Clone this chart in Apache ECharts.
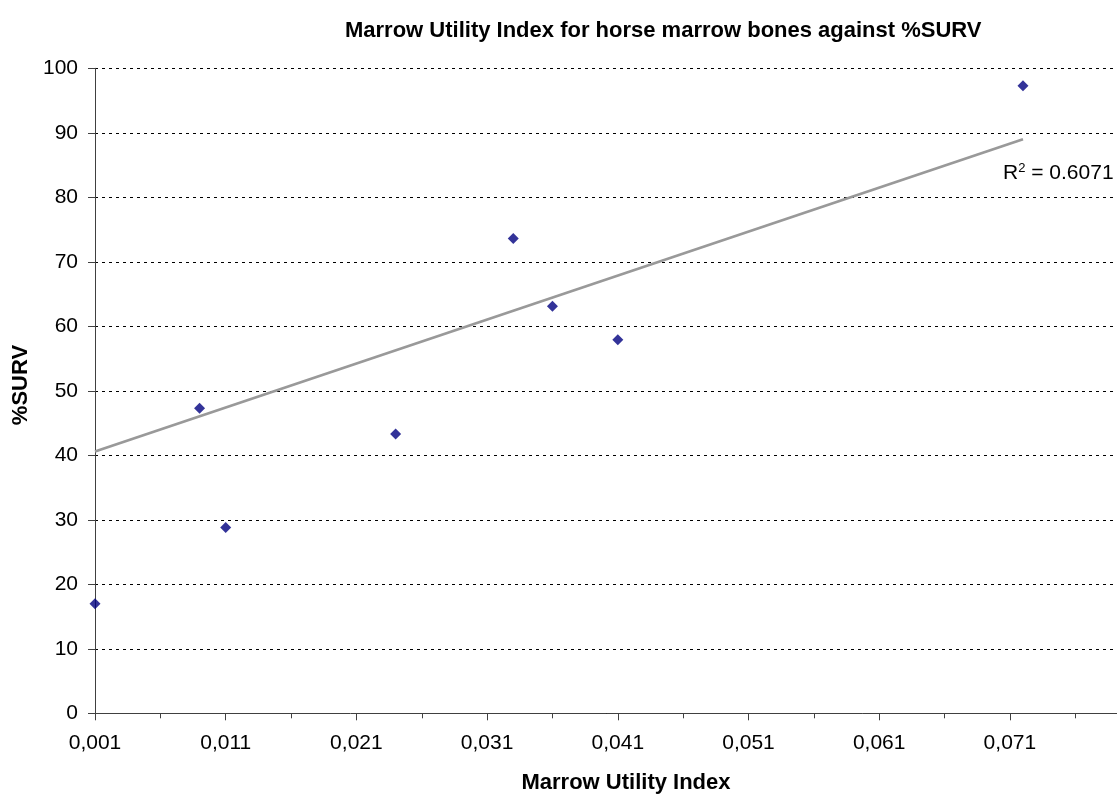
<!DOCTYPE html>
<html>
<head>
<meta charset="utf-8">
<script src="https://cdn.jsdelivr.net/npm/echarts@6/dist/echarts.min.js"></script>
<style>
html,body{margin:0;padding:0;background:#fff;}
#chart{width:1117px;height:796px;}
</style>
</head>
<body>
<div id="chart"></div>
<script>
// Data
const muiValues = [0.001, 0.009, 0.011, 0.024, 0.033, 0.036, 0.041, 0.072];
const survValues = [17.0, 47.3, 28.8, 43.3, 73.6, 63.1, 57.9, 97.3];
// Trendline end points (as drawn in the reference)
const trendX = [0.001, 0.072];
const trendY = [40.6, 89.0];
const rSquared = '0.6071';
const yTicks = [0, 10, 20, 30, 40, 50, 60, 70, 80, 90, 100];
const xTickStart = 0.001; // first x tick label (0,001), major step 0.01

const titleText = 'Marrow Utility Index for horse marrow bones against %SURV';
const xName = 'Marrow Utility Index';
const yName = '%SURV';

const FONT = '"Liberation Sans", Arial, sans-serif';

const scatterData = muiValues.map((x, i) => [x - xTickStart, survValues[i]]);
const trendData = trendX.map((x, i) => [x - xTickStart, trendY[i]]);

const chart = echarts.init(document.getElementById('chart'), null, {renderer: 'canvas'});
chart.setOption({
  backgroundColor: '#ffffff',
  animation: false,
  textStyle: {fontFamily: FONT},
  title: {
    text: titleText,
    left: 340,
    top: 15,
    textStyle: {fontFamily: FONT, fontSize: 22, fontWeight: 'bold', color: '#000'}
  },
  grid: {left: 95, top: 68.3, height: 645, width: 1045.6, containLabel: false, outerBoundsMode: 'none'},
  xAxis: {
    type: 'value',
    min: 0,
    max: 0.08,
    interval: 0.01,
    axisLine: {show: true, onZero: false, lineStyle: {color: '#404040', width: 1}},
    axisTick: {show: true, length: 7, lineStyle: {color: '#404040'}},
    minorTick: {show: true, splitNumber: 2, length: 5, lineStyle: {color: '#404040'}},
    splitLine: {show: false},
    axisLabel: {
      margin: 19,
      fontSize: 21,
      color: '#000',
      fontFamily: FONT,
      showMaxLabel: false,
      formatter: v => (v + xTickStart).toFixed(3).replace('.', ',')
    }
  },
  yAxis: {
    type: 'value',
    min: yTicks[0],
    max: yTicks[yTicks.length - 1],
    interval: yTicks[1] - yTicks[0],
    axisLine: {show: true, lineStyle: {color: '#404040', width: 1}},
    axisTick: {show: true, length: 7, lineStyle: {color: '#404040'}},
    splitLine: {show: true, lineStyle: {color: '#000', width: 1, type: [3, 4]}},
    axisLabel: {margin: 17, fontSize: 21, color: '#000', fontFamily: FONT}
  },
  series: [
    {
      type: 'line',
      data: trendData,
      symbol: 'none',
      lineStyle: {color: '#999999', width: 2.7},
      silent: true,
      z: 2
    },
    {
      type: 'scatter',
      data: scatterData,
      symbol: 'diamond',
      symbolSize: 11,
      itemStyle: {color: '#000080'},
      z: 3
    }
  ],
  graphic: [
    {
      type: 'text',
      x: 626, y: 783,
      style: {text: xName, font: 'bold 22px ' + FONT, fill: '#000', align: 'center', verticalAlign: 'middle'}
    },
    {
      type: 'text',
      x: 20.5, y: 385,
      rotation: Math.PI / 2,
      style: {text: yName, font: 'bold 22px ' + FONT, fill: '#000', align: 'center', verticalAlign: 'middle'}
    },
    {
      type: 'text',
      x: 1003, y: 173,
      style: {
        text: 'R{sup|2} = ' + rSquared,
        font: '21px ' + FONT,
        fill: '#000',
        align: 'left',
        verticalAlign: 'middle',
        rich: {sup: {fontSize: 13, fontFamily: FONT, verticalAlign: 'top', padding: [0, 0, 10, 0]}}
      }
    }
  ]
});
</script>
</body>
</html>
